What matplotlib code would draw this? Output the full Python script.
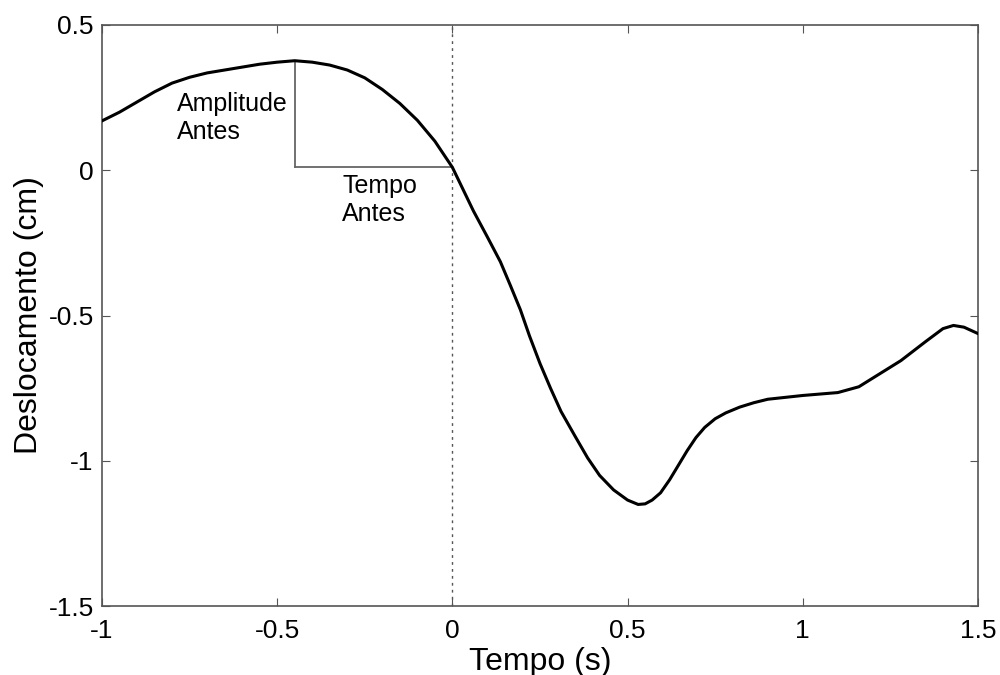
import numpy as np
import matplotlib
matplotlib.use("Agg")
import matplotlib.pyplot as plt

plt.rcParams['font.family'] = ['Liberation Sans', 'DejaVu Sans']

# values
tempo = [-1.0, -0.95, -0.9, -0.85, -0.8, -0.75, -0.7, -0.65, -0.6, -0.55, -0.5,
         -0.45, -0.4, -0.35, -0.3, -0.25, -0.2, -0.15, -0.1, -0.05, 0.0,
         0.03, 0.06, 0.1, 0.137, 0.165, 0.194, 0.22, 0.25, 0.28, 0.31, 0.35,
         0.386, 0.42, 0.46, 0.5, 0.53, 0.55, 0.57, 0.594, 0.62, 0.645, 0.67,
         0.695, 0.72, 0.75, 0.78, 0.82, 0.86, 0.9, 1.0, 1.1, 1.16, 1.22, 1.28,
         1.35, 1.4, 1.43, 1.46, 1.5]
desloc = [0.17, 0.20, 0.235, 0.27, 0.30, 0.32, 0.335, 0.345, 0.355, 0.365, 0.372,
          0.377, 0.372, 0.362, 0.345, 0.318, 0.278, 0.23, 0.172, 0.10, 0.01,
          -0.065, -0.14, -0.23, -0.315, -0.395, -0.48, -0.57, -0.665, -0.75, -0.83, -0.915,
          -0.99, -1.05, -1.10, -1.135, -1.15, -1.148, -1.135, -1.11, -1.065, -1.015, -0.965,
          -0.92, -0.885, -0.855, -0.835, -0.815, -0.80, -0.788, -0.775, -0.765, -0.745,
          -0.70, -0.655, -0.59, -0.545, -0.534, -0.54, -0.562]

pico_t, pico_a = -0.45, 0.377
base_a = 0.01

fig = plt.figure(figsize=(10, 6.75), dpi=100)
ax = fig.add_axes([0.102, 0.102, 0.876, 0.861])

ax.plot(tempo, desloc, color="black", lw=2.2, zorder=3)
ax.axvline(0, color="#555555", lw=1, ls=(0, (2, 3)), zorder=2)
ax.plot([pico_t, pico_t], [pico_a, base_a], color="#666666", lw=1.3)
ax.plot([pico_t, 0], [base_a, base_a], color="#666666", lw=1.3)

ax.text(-0.785, 0.268, "Amplitude\nAntes", fontsize=18, va="top", ha="left", linespacing=1.2)
ax.text(-0.314, -0.012, "Tempo\nAntes", fontsize=18, va="top", ha="left", linespacing=1.2)

ax.set_xlim(-1, 1.5)
ax.set_ylim(-1.5, 0.5)
ax.set_xticks([-1, -0.5, 0, 0.5, 1, 1.5])
ax.set_xticklabels(["-1", "-0.5", "0", "0.5", "1", "1.5"])
ax.set_yticks([-1.5, -1, -0.5, 0, 0.5])
ax.set_yticklabels(["-1.5", "-1", "-0.5", "0", "0.5"])
ax.tick_params(direction="in", top=True, right=True, length=6, labelsize=19, color="#555555")
ax.tick_params(axis="x", pad=9)
ax.tick_params(axis="y", pad=6)
for s in ax.spines.values():
    s.set_color("#555555")
    s.set_linewidth(1.2)

ax.set_xlabel("Tempo (s)", fontsize=23, labelpad=3)
ax.set_ylabel("Deslocamento (cm)", fontsize=23, labelpad=3)

fig.savefig("out.png", dpi=100)
